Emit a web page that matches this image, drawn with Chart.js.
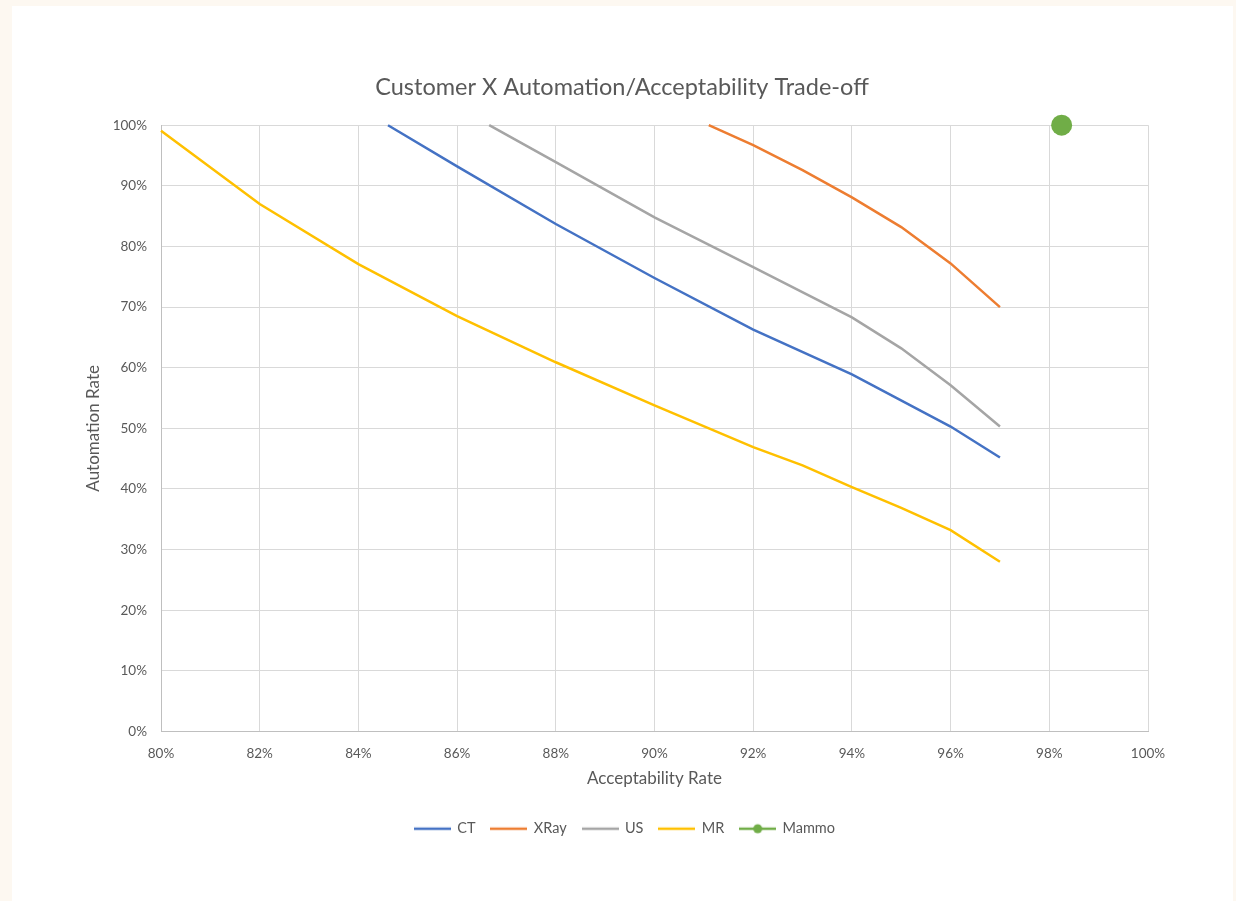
<!DOCTYPE html>
<html lang="en">
<head>
  <meta charset="UTF-8">
  <script src="https://cdn.jsdelivr.net/npm/chart.js"></script>
  <title>Customer X Automation/Acceptability Trade-off</title>
  <style>
    html, body {
      margin: 0;
      padding: 0;
      background: #fdf8f1;
    }
    #card {
      position: absolute;
      left: 12px;
      top: 6px;
      width: 1221px;
      height: 895px;
      background: #ffffff;
    }
    canvas {
      display: block;
    }
  </style>
</head>
<body>
<div id="card">
  <canvas id="tradeoffChart" width="1221" height="895"></canvas>
</div>
<script>
  // Values (percent)
  const ctX = [84.6, 86, 88, 90, 92, 94, 96, 97];
  const ctY = [100, 93.2, 83.7, 74.8, 66.3, 58.9, 50.3, 45.2];

  const xrayX = [91.1, 92, 93, 94, 95, 96, 97];
  const xrayY = [100, 96.7, 92.6, 88.1, 83.2, 77.2, 70.0];

  const usX = [86.65, 88, 90, 92, 94, 95, 96, 97];
  const usY = [100, 93.9, 84.8, 76.6, 68.3, 63.2, 57.1, 50.3];

  const mrX = [80, 82, 84, 86, 88, 90, 92, 93, 94, 95, 96, 97];
  const mrY = [99.1, 87.0, 77.1, 68.5, 60.9, 53.8, 46.9, 43.9, 40.3, 36.9, 33.2, 28.0];

  const mammoX = [98.25];
  const mammoY = [100];

  const seriesNames = ['CT', 'XRay', 'US', 'MR', 'Mammo'];
  const seriesColors = ['#4472C4', '#ED7D31', '#A5A5A5', '#FFC000', '#70AD47'];

  const textColor = '#595959';
  const fontFamily = 'Lato, "Open Sans", sans-serif';

  function toPoints(xs, ys) {
    return xs.map((x, i) => ({ x: x, y: ys[i] }));
  }

  // little legend swatch: a line, with a dot for the marker series
  function makeSwatch(color, withDot) {
    const c = document.createElement('canvas');
    c.width = 37;
    c.height = 12;
    const g = c.getContext('2d');
    g.strokeStyle = color;
    g.lineWidth = 2.5;
    g.beginPath();
    g.moveTo(0, 6);
    g.lineTo(37, 6);
    g.stroke();
    if (withDot) {
      g.fillStyle = color;
      g.beginPath();
      g.arc(18.5, 6, 4.5, 0, Math.PI * 2);
      g.fill();
    }
    return c;
  }

  const allX = [ctX, xrayX, usX, mrX, mammoX];
  const allY = [ctY, xrayY, usY, mrY, mammoY];
  const swatches = seriesNames.map((name, i) => makeSwatch(seriesColors[i], name === 'Mammo'));

  const datasets = seriesNames.map((name, i) => {
    const isMarker = name === 'Mammo';
    return {
      label: name,
      data: toPoints(allX[i], allY[i]),
      borderColor: seriesColors[i],
      backgroundColor: seriesColors[i],
      borderWidth: 2.5,
      showLine: !isMarker,
      pointStyle: 'circle',
      pointRadius: isMarker ? 10.5 : 0,
      pointHoverRadius: isMarker ? 10.5 : 0,
      pointBorderWidth: 0,
      clip: isMarker ? false : 5,
      tension: 0
    };
  });

  // nudge the title and legend a bit to the right, like the original
  const boxShift = {
    id: 'boxShift',
    afterLayout(chart) {
      chart.legend.left += 15;
      chart.legend.right += 15;
      if (chart.titleBlock) {
        chart.titleBlock.left += 12;
        chart.titleBlock.right += 12;
      }
    }
  };

  const ctx = document.getElementById('tradeoffChart').getContext('2d');
  new Chart(ctx, {
    type: 'scatter',
    data: { datasets: datasets },
    plugins: [boxShift],
    options: {
      responsive: false,
      animation: false,
      layout: {
        padding: { left: 60, right: 85, top: 56, bottom: 55 }
      },
      plugins: {
        title: {
          display: true,
          text: 'Customer X Automation/Acceptability Trade-off',
          color: textColor,
          font: { family: fontFamily, size: 23.5, weight: 'normal' },
          padding: { top: 11, bottom: 24 }
        },
        legend: {
          position: 'bottom',
          labels: {
            usePointStyle: true,
            pointStyleWidth: 35,
            color: textColor,
            font: { family: fontFamily, size: 14.5 },
            padding: 16,
            generateLabels: chart => chart.data.datasets.map((ds, i) => ({
              text: ds.label,
              pointStyle: swatches[i],
              fillStyle: ds.borderColor,
              strokeStyle: ds.borderColor,
              fontColor: textColor,
              lineWidth: 0,
              datasetIndex: i
            }))
          }
        },
        tooltip: { enabled: false }
      },
      scales: {
        x: {
          type: 'linear',
          min: 80,
          max: 100,
          afterFit: scale => { scale.height = 74; },
          ticks: {
            stepSize: 2,
            color: textColor,
            padding: 14,
            font: { family: fontFamily, size: 13.5 },
            callback: v => v + '%'
          },
          grid: { color: '#d9d9d9', drawTicks: false },
          border: { color: '#bfbfbf' },
          title: {
            display: true,
            text: 'Acceptability Rate',
            color: textColor,
            font: { family: fontFamily, size: 17 },
            padding: { top: 6, bottom: 17 }
          }
        },
        y: {
          min: 0,
          max: 100,
          afterFit: scale => { scale.width = 89; },
          ticks: {
            stepSize: 10,
            color: textColor,
            padding: 14,
            font: { family: fontFamily, size: 13.5 },
            callback: v => v + '%'
          },
          grid: { color: '#d9d9d9', drawTicks: false },
          border: { color: '#bfbfbf' },
          title: {
            display: true,
            text: 'Automation Rate',
            color: textColor,
            font: { family: fontFamily, size: 17 },
            padding: { top: 11, bottom: 4 }
          }
        }
      }
    }
  });
</script>
</body>
</html>
